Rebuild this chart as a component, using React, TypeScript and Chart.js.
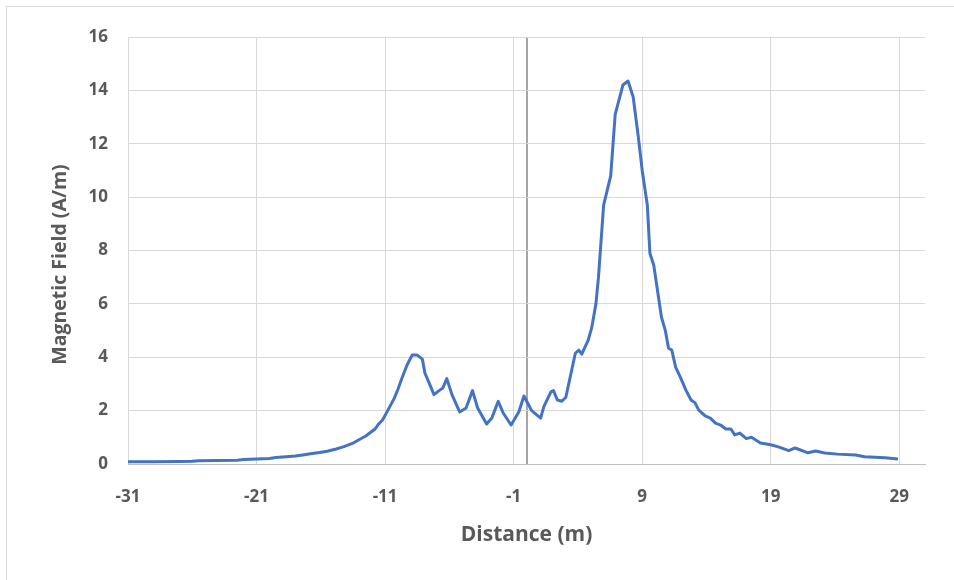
import React, { useEffect, useRef } from 'react';
import { Chart, registerables } from 'chart.js';

Chart.register(...registerables);

const distance = [
  -31, -29, -27, -26, -25.5, -24, -22.5, -22, -21, -20, -19.5, -18.7, -18, -17.4, -16.8, -16.1,
  -15.5, -14.8, -14.2, -13.5, -13, -12.5, -12.2, -11.8, -11.5, -11.2, -10.8, -10.3, -10, -9.7,
  -9.3, -8.9, -8.5, -8.1, -7.9, -7.6, -7.2, -6.8, -6.5, -6.2, -5.8, -5.2, -4.7, -4.2, -3.8,
  -3.1, -2.7, -2.2, -1.8, -1.2, -0.6, -0.2, 0.4, 1.1, 1.35, 1.9, 2.1, 2.4, 2.75, 3.06, 3.4,
  3.8, 4.07, 4.3, 4.8, 5.07, 5.4, 5.6, 6.0, 6.55, 6.9, 7.5, 7.9, 8.3, 8.7, 9.0, 9.4, 9.6, 9.9,
  10.5, 10.8, 11.05, 11.3, 11.6, 12.0, 12.4, 12.8, 13.1, 13.4, 13.9, 14.3, 14.7, 15.1, 15.5,
  15.9, 16.2, 16.6, 17.1, 17.5, 18.2, 19.0, 19.6, 20.4, 20.9, 21.9, 22.5, 23.2, 24.2, 25.6,
  26.3, 27.9, 28.9,
];

const magneticField = [
  0.08, 0.08, 0.09, 0.1, 0.12, 0.13, 0.14, 0.17, 0.19, 0.21, 0.24, 0.27, 0.3, 0.34, 0.38, 0.43,
  0.48, 0.56, 0.65, 0.78, 0.92, 1.05, 1.16, 1.3, 1.5, 1.65, 2.0, 2.45, 2.8, 3.2,
  3.7, 4.08, 4.08, 3.93, 3.4, 3.07, 2.6, 2.75, 2.85, 3.2, 2.6, 1.95, 2.1, 2.75, 2.1,
  1.5, 1.72, 2.35, 1.9, 1.46, 1.95, 2.55, 2.0, 1.72, 2.15, 2.7, 2.75, 2.4, 2.35, 2.5, 3.26,
  4.15, 4.27, 4.12, 4.64, 5.1, 6.0, 7.0, 9.7, 10.8, 13.1, 14.2, 14.35, 13.75, 12.25, 11.0, 9.7, 7.9, 7.45,
  5.5, 5.0, 4.34, 4.27, 3.63, 3.22, 2.77, 2.4, 2.3, 2.02, 1.8, 1.72, 1.53, 1.46, 1.31,
  1.31, 1.09, 1.16, 0.95, 1.0, 0.79, 0.72, 0.64, 0.5, 0.6, 0.42, 0.49, 0.41, 0.37, 0.34,
  0.27, 0.23, 0.19,
];

const xTickValues = [-31, -21, -11, -1, 0, 9, 19, 29];
const yTickValues = [0, 2, 4, 6, 8, 10, 12, 14, 16];

const xTitle = 'Distance (m)';
const yTitle = 'Magnetic Field (A/m)';

const FONT = '"Open Sans", "DejaVu Sans", sans-serif';
const TEXT = '#595959';

const yTitlePlugin = {
  id: 'yTitleText',
  afterDraw(chart: any) {
    const ctx = chart.ctx;
    const area = chart.chartArea;
    ctx.save();
    ctx.translate(60, (area.top + area.bottom) / 2 + 14);
    ctx.rotate(-Math.PI / 2);
    ctx.fillStyle = TEXT;
    ctx.font = `bold 19.5px ${FONT}`;
    ctx.textAlign = 'center';
    ctx.textBaseline = 'middle';
    ctx.fillText(yTitle, 0, 0);
    ctx.restore();
  },
};

export default function App() {
  const ref = useRef<HTMLCanvasElement | null>(null);

  useEffect(() => {
    if (!ref.current) return;
    const points = distance.map((d, i) => ({ x: d, y: magneticField[i] }));
    const chart = new Chart(ref.current, {
      type: 'scatter',
      data: {
        datasets: [
          {
            data: points,
            showLine: true,
            borderColor: '#4472C4',
            backgroundColor: '#4472C4',
            borderWidth: 3,
            pointRadius: 0,
            tension: 0,
            borderJoinStyle: 'round',
          },
        ],
      },
      plugins: [yTitlePlugin],
      options: {
        animation: false,
        responsive: false,
        maintainAspectRatio: false,
        layout: { padding: { left: 0, top: 37, right: 29, bottom: 0 } },
        plugins: { legend: { display: false }, tooltip: { enabled: false } },
        scales: {
          x: {
            type: 'linear',
            min: -31,
            max: 31,
            afterBuildTicks: (s: any) => {
              s.ticks = xTickValues.map((v) => ({ value: v }));
            },
            afterFit: (s: any) => {
              s.height = 116;
            },
            ticks: {
              autoSkip: false,
              maxRotation: 0,
              padding: 23,
              color: TEXT,
              font: { family: FONT, size: 17, weight: 'bold' },
              callback: (v: any) => (v === 0 ? '' : String(v)),
            },
            grid: {
              drawTicks: false,
              color: (ctx: any) => (ctx.tick && ctx.tick.value === 0 ? '#a6a6a6' : '#d9d9d9'),
              lineWidth: (ctx: any) => (ctx.tick && ctx.tick.value === 0 ? 2 : 1),
            },
            border: { color: '#bfbfbf', width: 1 },
            title: {
              display: true,
              text: xTitle,
              color: TEXT,
              font: { family: FONT, size: 21, weight: 'bold' },
              padding: { top: 8, bottom: 32 },
            },
          },
          y: {
            type: 'linear',
            min: 0,
            max: 16,
            afterBuildTicks: (s: any) => {
              s.ticks = yTickValues.map((v) => ({ value: v }));
            },
            afterFit: (s: any) => {
              s.width = 128;
            },
            ticks: {
              padding: 20,
              color: TEXT,
              font: { family: FONT, size: 17, weight: 'bold' },
            },
            grid: { drawTicks: false, color: '#d9d9d9', lineWidth: 1 },
            border: { display: false },
            title: { display: false },
          },
        },
      },
    });
    return () => chart.destroy();
  }, []);

  return (
    <div
      style={{
        position: 'absolute',
        left: 0,
        top: 0,
        width: 954,
        height: 580,
        background: '#ffffff',
        overflow: 'hidden',
      }}
    >
      <div
        style={{
          position: 'absolute',
          left: 6,
          top: 6,
          width: 960,
          height: 600,
          border: '1px solid #d9d9d9',
          boxSizing: 'border-box',
        }}
      />
      <canvas ref={ref} width={954} height={580} style={{ position: 'absolute', left: 0, top: 0 }} />
    </div>
  );
}
